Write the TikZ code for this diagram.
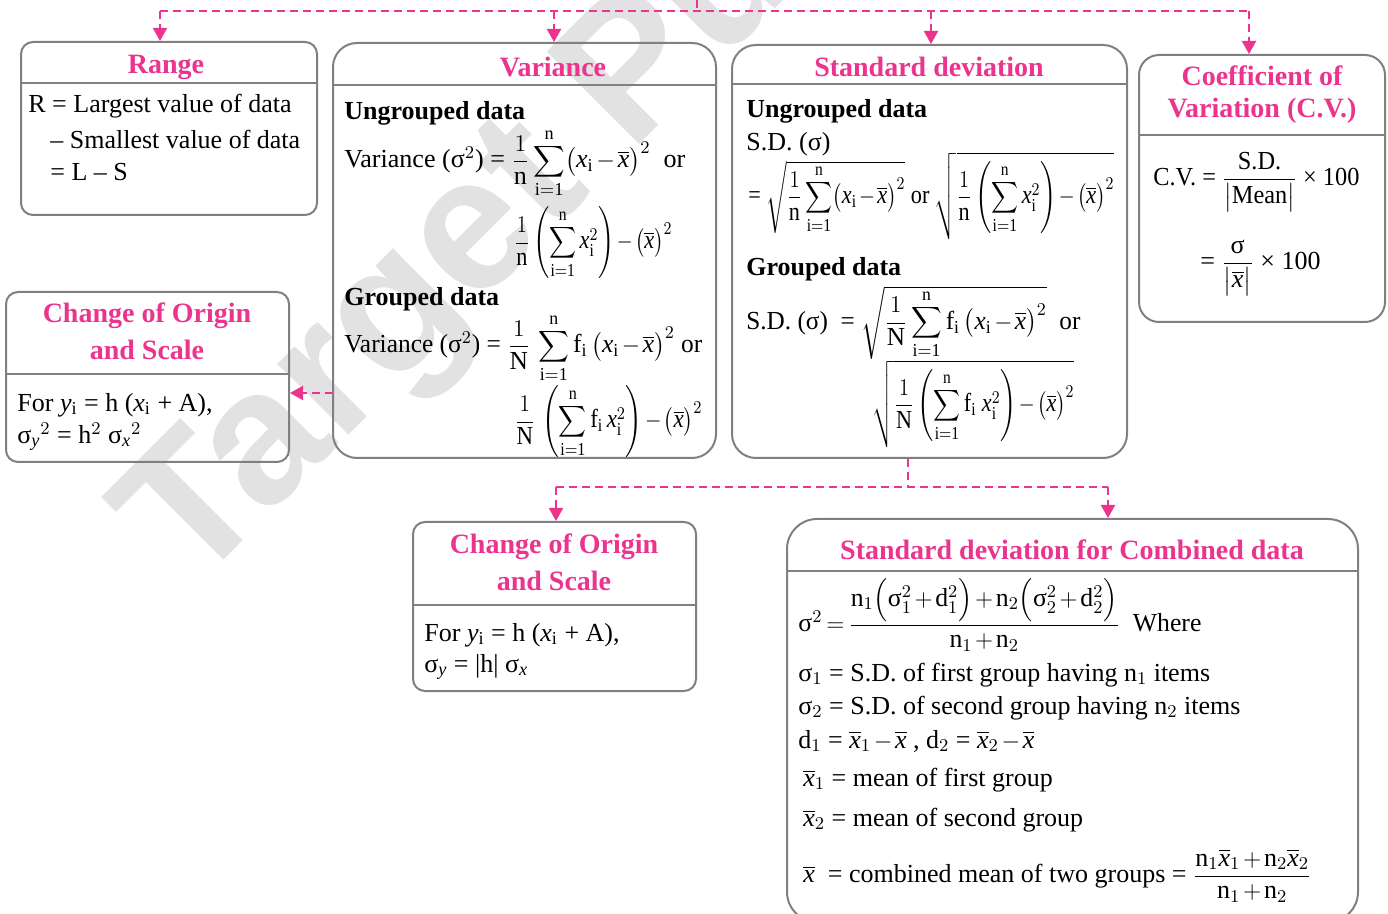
\documentclass[tikz,border=0pt]{standalone}
\usepackage{amsmath}
\usepackage{graphicx}
\usepackage{fontspec}
\setmainfont{Liberation Serif}
\newfontfamily\wmfont{Liberation Sans}
\usetikzlibrary{arrows.meta,fit}
\definecolor{pk}{RGB}{234,52,142}
\definecolor{bx}{RGB}{128,128,128}
\definecolor{wm}{RGB}{226,226,226}
\newcommand{\vx}{\mathit{x}}
\newcommand{\vy}{\mathit{y}}
\newcommand{\xbr}{\overline{\mathit{x}}}
\newcommand{\sg}{\text{σ}}
\newcommand{\rmi}{\mathrm{i}}
\newcommand{\bsum}{\mathop{\vcenter{\hbox{\fontsize{11}{12}\selectfont$\displaystyle\sum$}}}}
\newcommand{\sumi}{\bsum\limits_{\mathrm{i=1}}^{\mathrm n}}
\newcommand{\fitw}[2]{\resizebox{#1}{\height}{#2}}
\medmuskip=2mu\relax
\thickmuskip=3mu\relax
\begin{document}
\begin{tikzpicture}[x=0.5pt,y=-0.5pt,
  box/.style={draw=bx, line width=1pt, rounded corners=#1, inner sep=0pt},
  box/.default=6pt,
  sepline/.style={draw=bx, line width=1pt},
  title/.style={text=pk, font=\fontsize{14}{18.5}\selectfont\bfseries, align=center, inner sep=0pt},
  txt/.style={font=\fontsize{13}{16}\selectfont, anchor=west, inner sep=0pt},
  subh/.style={font=\fontsize{13}{16}\selectfont\bfseries, anchor=west, inner sep=0pt},
  conn/.style={draw=pk, line width=1pt, dash pattern=on 4pt off 2.5pt},
  arr/.style={conn, -{Triangle[width=7pt,length=6.5pt]}},
  wmstyle/.style={text=wm, font=\wmfont\bfseries\fontsize{95}{95}\selectfont, inner sep=0pt}
]
\useasboundingbox (0,0) rectangle (1388,914);
% watermark
\begin{scope}
\clip (0,0) rectangle (1388,914);
\node[wmstyle, rotate=45, anchor=base west] (wm) at (192,592) {Target Publications};
\end{scope}

% boxes
\node[box=6pt, fit={(21,42)(317,215)}] (range) {};
\node[box=12pt, fit={(333,43)(716,458)}] (var) {};
\node[box=12pt, fit={(732,45)(1127,458)}] (sd) {};
\node[box=10pt, fit={(1139,55)(1385,322)}] (cv) {};
\node[box=6pt, fit={(6,292)(289,462)}] (chg1) {};
\node[box=6pt, fit={(413,522)(696,691)}] (chg2) {};
\node[box=15pt, fit={(787,519)(1358,922)}] (comb) {};

\draw[sepline] (range.west |- 0,83) -- (range.east |- 0,83);
\draw[sepline] (var.west |- 0,85) -- (var.east |- 0,85);
\draw[sepline] (sd.west |- 0,84) -- (sd.east |- 0,84);
\draw[sepline] (cv.west |- 0,135) -- (cv.east |- 0,135);
\draw[sepline] (chg1.west |- 0,374) -- (chg1.east |- 0,374);
\draw[sepline] (chg2.west |- 0,605) -- (chg2.east |- 0,605);
\draw[sepline] (comb.west |- 0,571) -- (comb.east |- 0,571);

% connectors
\coordinate (src) at (697,0);
\coordinate (srcb) at (697,11);
\coordinate (tl) at (160,11);
\coordinate (tv) at (554,11);
\coordinate (ts) at (931,11);
\coordinate (tr) at (1249,11);
\draw[conn] (src) -- (srcb);
\draw[conn] (tl) -- (tr);
\draw[arr] (tl) -- (tl |- range.north);
\draw[arr] (tv) -- (tv |- var.north);
\draw[arr] (ts) -- (ts |- sd.north);
\draw[arr] (tr) -- (tr |- cv.north);
\coordinate (lv) at (333,393);
\draw[arr] (lv) -- (lv -| chg1.east);
\coordinate (j) at (908,487);
\coordinate (b1) at (556,487);
\coordinate (b2) at (1108,487);
\draw[conn] (j |- sd.south) -- (j);
\draw[conn] (b1) -- (b2);
\draw[arr] (b1) -- (b1 |- chg2.north);
\draw[arr] (b2) -- (b2 |- comb.north);

% Range
\node[title] (rangeT) at (166,67) {Range};
\node[txt] (r1) at (28,106) {R = Largest value of data};
\node[txt] (r2) at (50,139) {– Smallest value of data};
\node[txt] (r3) at (50,172) {= L – S};

% Variance
\node[title] (varT) at (553,67) {Variance};
\node[subh] (v1) at (344,113) {Ungrouped data};
\node[txt] (v2) at (344,163) {\fitw{170.5pt}{Variance (\(\sg^2\)) = \(\dfrac{1}{\mathrm n}\sumi\bigl(\vx_{\rmi}-\xbr\bigr)^{2}\)\enspace or}};
\node[txt] (v3) at (514,243) {\fitw{79pt}{\(\dfrac{1}{\mathrm n}\left(\sumi\vx_{\rmi}^{2}\right)-\bigl(\xbr\bigr)^{2}\)}};
\node[subh] (v4) at (344,299) {Grouped data};
\node[txt] (v5) at (344,348) {\fitw{179pt}{Variance (\(\sg^2\)) = \(\dfrac{1}{\mathrm N}\;\sumi\mathrm f_{\rmi}\,\bigl(\vx_{\rmi}-\xbr\bigr)^{2}\) or}};
\node[txt] (v6) at (514,422) {\fitw{94pt}{\(\dfrac{1}{\mathrm N}\;\left(\sumi\mathrm f_{\rmi}\,\vx_{\rmi}^{2}\right)-\bigl(\xbr\bigr)^{2}\)}};

% Standard deviation
\node[title] (sdT) at (929,67) {Standard deviation};
\node[subh] (s1) at (746,111) {Ungrouped data};
\node[txt] (s2) at (746,144) {S.D. (σ)};
\node[txt] (s3) at (748,196) {\fitw{183pt}{= \(\sqrt{\dfrac{1}{\mathrm n}\sumi\bigl(\vx_{\rmi}-\xbr\bigr)^{2}}\) or \(\sqrt{\dfrac{1}{\mathrm n}\left(\sumi\vx_{\rmi}^{2}\right)-\bigl(\xbr\bigr)^{2}}\)}};
\node[subh] (s4) at (746,269) {Grouped data};
\node[txt] (s5) at (746,323) {\fitw{167pt}{S.D. (σ) \ = \(\sqrt{\dfrac{1}{\mathrm N}\sumi\mathrm f_{\rmi}\,\bigl(\vx_{\rmi}-\xbr\bigr)^{2}}\) \ or}};
\node[txt] (s6) at (872,404) {\fitw{101pt}{\(\sqrt{\dfrac{1}{\mathrm N}\left(\sumi\mathrm f_{\rmi}\ \vx_{\rmi}^{2}\right)-\bigl(\xbr\bigr)^{2}}\)}};

% CV
\node[title, font=\fontsize{14}{16}\selectfont\bfseries] (cvT) at (1262,95) {Coefficient of\\Variation (C.V.)};
\node[txt] (c1) at (1153,182) {\fitw{103pt}{C.V. = \(\dfrac{\text{S.D.}}{\bigl|\text{Mean}\bigr|}\) × 100}};
\node[txt] (c2) at (1200,268) {= \(\dfrac{\sg}{\bigl|\xbr\bigr|}\) × 100};

% Change of origin (left)
\node[title] (ch1T) at (147,331) {Change of Origin\\and Scale};
\node[txt] (ch1a) at (17,405) {For \(\vy_{\rmi}\) = h (\(\vx_{\rmi}\) + A),};
\node[txt] (ch1b) at (17,437) {\(\sg_{\vy}{}^{2}\) = h\(^2\) \(\sg_{\vx}{}^{2}\)};

% Change of origin (bottom)
\node[title] (ch2T) at (554,562) {Change of Origin\\and Scale};
\node[txt] (ch2a) at (424,635) {For \(\vy_{\rmi}\) = h (\(\vx_{\rmi}\) + A),};
\node[txt] (ch2b) at (424,667) {\(\sg_{\vy}\) = |h| \(\sg_{\vx}\)};

% Combined
\node[title] (cbT) at (1072,550) {Standard deviation for Combined data};
\node[txt] (cb1) at (798,615) {\fitw{201.5pt}{\(\sg^{2} = \dfrac{\mathrm n_1\Bigl(\sg_1^2+\mathrm d_1^2\Bigr)+\mathrm n_2\Bigl(\sg_2^2+\mathrm d_2^2\Bigr)}{\mathrm n_1+\mathrm n_2}\)\enspace Where}};
\node[txt] (cb2) at (798,675) {\(\sg_1\) = S.D. of first group having n\(_1\) items};
\node[txt] (cb3) at (798,708) {\(\sg_2\) = S.D. of second group having n\(_2\) items};
\node[txt] (cb4) at (798,741) {d\(_1\) = \(\xbr_1-\xbr\) , d\(_2\) = \(\xbr_2-\xbr\)};
\node[txt] (cb5) at (803,780) {\(\xbr_1\) = mean of first group};
\node[txt] (cb6) at (803,820) {\(\xbr_2\) = mean of second group};
\node[txt] (cb7) at (803,876) {\(\xbr\) \ = combined mean of two groups = \(\dfrac{\mathrm n_1\xbr_1+\mathrm n_2\xbr_2}{\mathrm n_1+\mathrm n_2}\)};
\end{tikzpicture}
\end{document}
